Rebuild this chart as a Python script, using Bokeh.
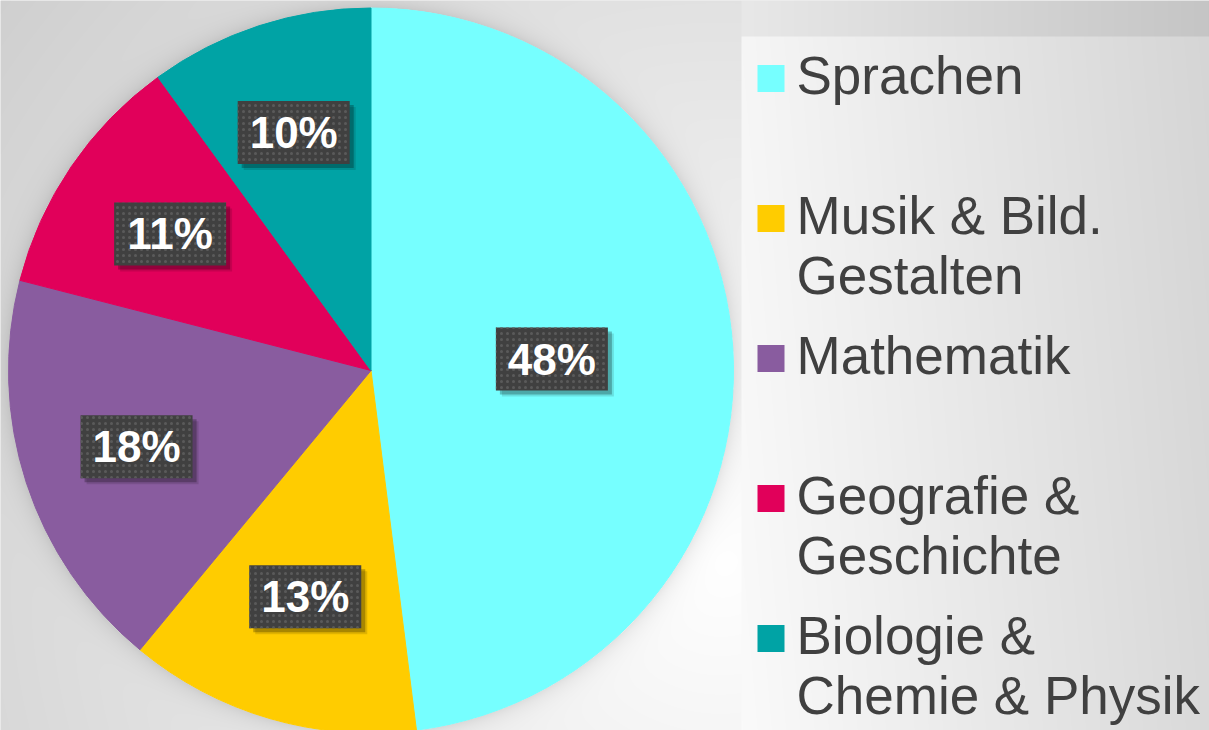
import numpy as np
from bokeh.plotting import figure
from bokeh.models import Range1d, ColumnDataSource
from bokeh.core.properties import value
from bokeh.embed import file_html
from bokeh.resources import INLINE

# ---- data ----
categories = ["Sprachen", "Musik & Bild.\nGestalten", "Mathematik",
              "Geografie &\nGeschichte", "Biologie &\nChemie & Physik"]
shares = [48, 13, 18, 11, 10]
labels = ["48%", "13%", "18%", "11%", "10%"]
colors = ["#76FFFF", "#FFCC00", "#895C9F", "#E1005A", "#00A3A5"]
label_radius = [0.50, 0.65, 0.68, 0.67, 0.69]   # label distance as fraction of radius

# ---- layout (screen pixels) ----
W, H = 1209, 730
OX, OY = 0, 0
PAGE_H = 730
CX, CY, R = 370.5, 370.0, 362.5       # pie centre / radius in screen px


def to_y(sy):
    return PAGE_H - sy


p = figure(width=W, height=H, x_range=Range1d(OX, OX + W), y_range=Range1d(OY, OY + H),
           output_backend="svg", toolbar_location=None, min_border=0)
p.axis.visible = False
p.grid.visible = False
p.outline_line_color = None
p.background_fill_color = "#e0e0e0"
p.border_fill_color = "#e0e0e0"

# ---- background gradient image ----
xs = np.arange(W) + OX + 0.5
ys = np.arange(H) + OY + 0.5
X, Y = np.meshgrid(xs, ys)
g = 255 - 0.052 * np.hypot(X - 720, Y - 560)
d = np.hypot(X - CX, Y - CY) - R
g = g - np.where(d > 0, 22 * np.exp(-np.clip(d, 0, None) / 9.0), 0)
panel = (X >= 741) & (Y >= 36)
g = np.where(panel, 246 - 0.07 * (X - 741) + 0.006 * (Y - 36), g)
strip = (X >= 741) & (Y < 36)
g = np.where(strip, 232 - 0.075 * (X - 741), g)
g = np.clip(g, 0, 255).astype(np.uint8)
img = np.empty((H, W), dtype=np.uint32)
view = img.view(dtype=np.uint8).reshape((H, W, 4))
view[..., 0] = g
view[..., 1] = g
view[..., 2] = g
view[..., 3] = 255
img = np.ascontiguousarray(img[::-1])
p.image_rgba(image=[img], x=OX, y=OY, dw=W, dh=H)

# ---- pie ----
frac = np.array(shares, dtype=float) / sum(shares)
cum = np.concatenate([[0.0], np.cumsum(frac)])
start = np.pi / 2 - cum[:-1] * 2 * np.pi
end = np.pi / 2 - cum[1:] * 2 * np.pi
src = ColumnDataSource(dict(start=start, end=end, color=colors))
p.wedge(x=CX, y=to_y(CY), radius=R, start_angle="start", end_angle="end",
        direction="clock", fill_color="color", line_color="color", line_width=1, source=src)

# ---- data labels ----
mid = (cum[:-1] + cum[1:]) / 2 * 2 * np.pi
rf = np.array(label_radius)
lx = CX + rf * R * np.sin(mid)
ly = to_y(CY) + rf * R * np.cos(mid)
BW, BH = 112, 63
p.rect(x=lx + 6, y=ly - 6, width=BW, height=BH, fill_color="black", fill_alpha=0.12, line_color=None)
p.rect(x=lx + 4, y=ly - 4, width=BW, height=BH, fill_color="black", fill_alpha=0.25, line_color=None)
p.rect(x=lx, y=ly, width=BW, height=BH, fill_color="#404040", line_color=None,
       hatch_pattern="dot", hatch_color="#5a5a5a", hatch_scale=6, hatch_weight=2)
p.text(x=lx, y=ly, text=labels, text_color="white", text_font=value("Liberation Sans"),
       text_font_style="bold", text_font_size="44px", text_align="center", text_baseline="middle")

# ---- legend ----
sq_x, sq_y, tx, ty, tt = [], [], [], [], []
for i, name in enumerate(categories):
    base = 94 + 140 * i
    sq_x.append(770.5)
    sq_y.append(to_y(base - 16))
    for j, line in enumerate(name.split("\n")):
        tx.append(796)
        ty.append(to_y(base + 60 * j - 19))
        tt.append(line)
p.rect(x=sq_x, y=sq_y, width=27, height=27, fill_color=colors, line_color=None)
p.text(x=tx, y=ty, text=tt, text_color="#404040", text_font=value("Liberation Sans"),
       text_font_size="53px", text_align="left", text_baseline="alphabetic")

open("out.html", "w").write(file_html(p, INLINE))
